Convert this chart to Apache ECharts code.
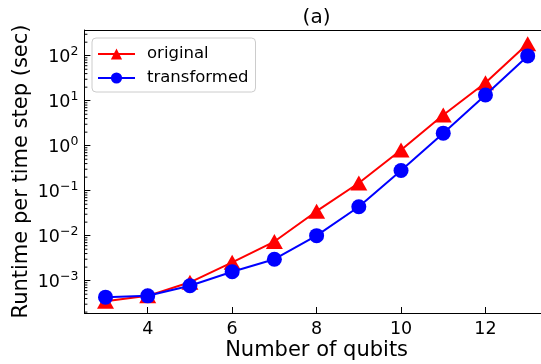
<!DOCTYPE html>
<html>
<head>
<meta charset="utf-8">
<script src="https://cdn.jsdelivr.net/npm/echarts@6/dist/echarts.min.js"></script>
<style>
  html, body { margin: 0; padding: 0; background: #fff; }
  #chart { width: 541px; height: 364px; }
</style>
</head>
<body>
<div id="chart"></div>
<script>
// Runtime per simulated time step versus register size
const qubits = [3, 4, 5, 6, 7, 8, 9, 10, 11, 12, 13];
const originalRuntime = [3.5e-4, 4.6e-4, 9.2e-4, 2.55e-3, 7.4e-3, 0.035, 0.148, 0.80, 4.8, 25, 184];
const transformedRuntime = [4.3e-4, 4.6e-4, 7.7e-4, 1.58e-3, 3.0e-3, 0.010, 0.044, 0.28, 1.9, 13.4, 99];
const seriesNames = ['original', 'transformed'];

// Axis ranges
const xRange = [2.5, 13.5];
const yRange = [1.91e-4, 373];

// Minor ticks of the log axis: 2..9 times each power of ten inside the range
const minorTickValues = [];
for (let k = -4; k <= 2; k++) {
  for (let m = 2; m <= 9; m++) {
    const v = m * Math.pow(10, k);
    if (v > yRange[0] && v < yRange[1]) minorTickValues.push(v);
  }
}

const FONT = 'DejaVu Sans';

function powerLabel(v) {
  const e = Math.log10(v);
  const r = Math.round(e);
  if (Math.abs(e - r) > 1e-6) return '';
  const exp = r < 0 ? '\u2212' + (-r) : String(r);
  return '{base|10}{sup|' + exp + '}';
}

const chart = echarts.init(document.getElementById('chart'), null, { renderer: 'canvas' });

chart.setOption({
  animation: false,
  backgroundColor: '#fff',
  title: {
    text: '(a)',
    left: 302.6,
    top: 8,
    padding: 0,
    textStyle: { fontFamily: FONT, fontSize: 20, fontWeight: 'normal', color: '#000' }
  },
  // the frame runs a little past the right edge of the canvas
  grid: { left: 84.4, width: 464.4, top: 30, bottom: 51, containLabel: false, outerBoundsMode: 'none' },
  legend: {
    data: seriesNames,
    orient: 'vertical',
    left: 92,
    top: 38,
    padding: [7, 7, 5, 5],
    itemWidth: 37,
    itemHeight: 14,
    itemGap: 6,
    backgroundColor: '#fff',
    borderColor: '#cccccc',
    borderWidth: 1,
    borderRadius: 4,
    textStyle: { fontFamily: FONT, fontSize: 16.5, color: '#000', lineHeight: 18, padding: [0, 0, 0, 7] }
  },
  xAxis: [
    {
      type: 'value',
      min: xRange[0],
      max: xRange[1],
      splitNumber: 5,
      name: 'Number of qubits',
      nameLocation: 'middle',
      nameGap: 27,
      nameMoveOverlap: false,
      nameTextStyle: { fontFamily: FONT, fontSize: 21, color: '#000' },
      axisLine: { show: true, onZero: false, lineStyle: { color: '#000', width: 1 } },
      axisTick: { show: true, inside: true, length: 6, lineStyle: { color: '#000', width: 1 } },
      axisLabel: {
        fontFamily: FONT, fontSize: 17.5, color: '#000', margin: 7,
        formatter: v => (Number.isInteger(v) && v % 2 === 0) ? String(v) : ''
      },
      splitLine: { show: false }
    },
    {
      type: 'value',
      position: 'top',
      min: xRange[0],
      max: xRange[1],
      axisLine: { show: true, onZero: false, lineStyle: { color: '#000', width: 1 } },
      axisTick: { show: false },
      axisLabel: { show: false },
      splitLine: { show: false }
    }
  ],
  yAxis: {
    type: 'log',
    logBase: 10,
    min: yRange[0],
    max: yRange[1],
    splitNumber: 7,
    name: 'Runtime per time step (sec)',
    nameLocation: 'middle',
    nameGap: 52,
    nameMoveOverlap: false,
    nameTextStyle: { fontFamily: FONT, fontSize: 21, color: '#000' },
    axisLine: { show: true, onZero: false, lineStyle: { color: '#000', width: 1 } },
    axisTick: { show: true, inside: true, length: 6, lineStyle: { color: '#000', width: 1 } },
    axisLabel: {
      margin: 6,
      padding: [4, 0, 0, 0],
      formatter: powerLabel,
      rich: {
        base: { fontFamily: FONT, fontSize: 17.5, color: '#000', lineHeight: 24 },
        sup: { fontFamily: FONT, fontSize: 12.5, color: '#000', lineHeight: 10, verticalAlign: 'top' }
      }
    },
    splitLine: { show: false },
    minorTick: { show: false }
  },
  series: [
    {
      type: 'custom',
      name: 'minor ticks',
      silent: true,
      z: 5,
      data: minorTickValues.map(v => [xRange[0], v]),
      renderItem: (params, api) => {
        const p = api.coord([api.value(0), api.value(1)]);
        return {
          type: 'line',
          shape: { x1: p[0], y1: p[1], x2: p[0] + 3, y2: p[1] },
          style: { stroke: '#000', lineWidth: 1 }
        };
      }
    },
    {
      name: seriesNames[0],
      type: 'line',
      data: qubits.map((q, i) => [q, originalRuntime[i]]),
      symbol: 'triangle',
      symbolSize: [17, 15],
      showAllSymbol: true,
      lineStyle: { color: '#ff0000', width: 2 },
      itemStyle: { color: '#ff0000' },
      z: 3
    },
    {
      name: seriesNames[1],
      type: 'line',
      data: qubits.map((q, i) => [q, transformedRuntime[i]]),
      symbol: 'circle',
      symbolSize: 15,
      showAllSymbol: true,
      lineStyle: { color: '#0000ff', width: 2 },
      itemStyle: { color: '#0000ff' },
      z: 4
    }
  ]
});
</script>
</body>
</html>
